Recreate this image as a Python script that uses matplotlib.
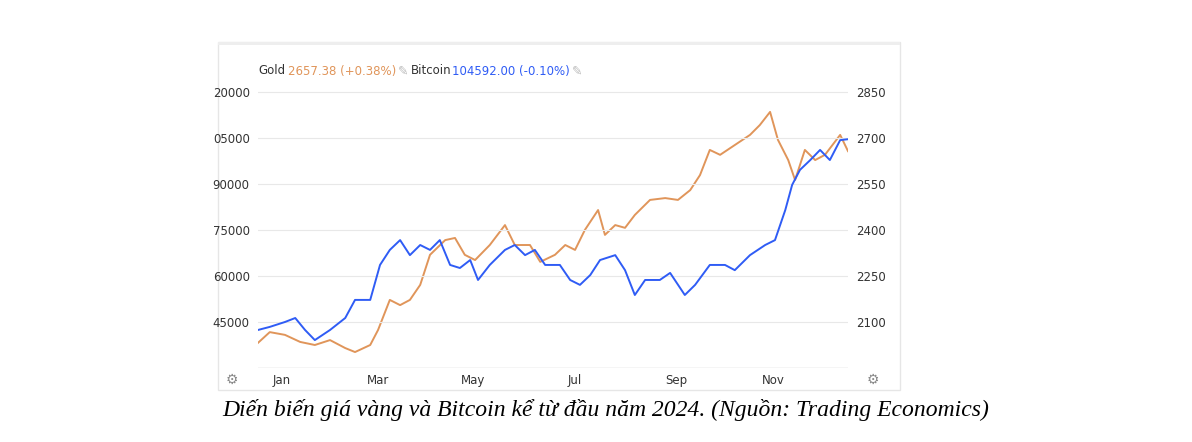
import matplotlib
matplotlib.use("Agg")
import matplotlib.pyplot as plt
from matplotlib.patches import Rectangle

# month-position (0 = Jan 1) and values
gold_x = [0,0.24,0.55,0.86,1.16,1.47,1.78,1.98,2.29,2.45,2.69,2.9,3.1,3.31,3.51,3.82,4.02,4.22,4.43,4.73,5.04,5.24,5.55,5.76,6.06,6.27,6.47,6.67,6.94,7.08,7.29,7.49,7.69,8.0,8.31,8.57,8.82,9.02,9.22,9.43,9.73,10.04,10.24,10.45,10.61,10.82,10.96,11.16,11.37,11.57,11.88,12.04]
gold = [2032,2067,2058,2035,2025,2041,2015,2002,2025,2074,2172,2155,2172,2221,2319,2367,2374,2319,2302,2351,2416,2351,2351,2296,2319,2351,2335,2400,2465,2384,2416,2407,2449,2498,2504,2498,2530,2579,2661,2645,2677,2710,2742,2785,2694,2628,2563,2661,2628,2645,2710,2657]
btc_x = [0,0.24,0.55,0.76,0.96,1.16,1.47,1.78,1.98,2.29,2.49,2.69,2.9,3.1,3.31,3.51,3.71,3.92,4.12,4.33,4.49,4.73,5.04,5.24,5.45,5.65,5.86,6.16,6.37,6.57,6.78,6.98,7.29,7.49,7.69,7.9,8.2,8.41,8.71,8.92,9.22,9.53,9.73,10.04,10.35,10.55,10.76,10.9,11.06,11.27,11.47,11.67,11.88,12.04]
btc = [42400,43400,45000,46300,42400,39100,42400,46300,52200,52200,63600,68500,71700,66800,70100,68500,71700,63600,62600,65200,58700,63600,68500,70100,66800,68500,63600,63600,58700,57100,60300,65200,66800,61900,53800,58700,58700,61000,53800,57100,63600,63600,61900,66800,70100,71700,81500,89700,94600,97800,101100,97800,104300,104592]
left_ticks = [45000,60000,75000,90000,105000,120000]
left_labels = ["45000","60000","75000","90000","05000","20000"]
right_ticks = [2100,2250,2400,2550,2700,2850]
month_ticks = [0.49,2.45,4.39,6.47,8.53,10.51]
month_labels = ["Jan","Mar","May","Jul","Sep","Nov"]

W, H = 1192, 442
fig = plt.figure(figsize=(W/100, H/100), dpi=100)
fig.patches.append(Rectangle((218/W, 1-390/H), 682/W, 348/H, transform=fig.transFigure,
                             facecolor="white", edgecolor="#e6e6e6", lw=1, zorder=-5))
fig.patches.append(Rectangle((218/W, 1-45/H), 682/W, 3/H, transform=fig.transFigure,
                             facecolor="#eeeeee", edgecolor="none", zorder=-4))

ax = fig.add_axes([258/W, 1-368/H, 590/W, 288/H])
ax2 = ax.twinx()
ax.patch.set_visible(False); ax2.patch.set_visible(False)
ax.plot(btc_x, btc, color="#2f5cf5", lw=1.4, zorder=3)
ax2.plot(gold_x, gold, color="#e0955a", lw=1.4)
ax.set_zorder(2); ax2.set_zorder(1)
ax.set_xlim(0, 12.04)
ax.set_ylim(30000, 123900)
ax2.set_ylim(1950, 2889)
ax.set_yticks(left_ticks); ax.set_yticklabels(left_labels)
ax2.set_yticks(right_ticks)
ax.set_xticks(month_ticks); ax.set_xticklabels(month_labels)
for a in (ax, ax2):
    for s in a.spines.values(): s.set_visible(False)
    a.tick_params(length=0, labelsize=8.5, colors="#333333")
ax.tick_params(axis="y", pad=6)
ax2.tick_params(axis="y", pad=6)
ax.tick_params(axis="x", pad=4)
ax.grid(axis="y", color="#e8e8e8", lw=0.8)
ax.axhline(30000, color="#cccccc", lw=1)

y = 1-71/H
fs = 8.5
parts = [("Gold", "#333333", 258), ("2657.38 (+0.38%)", "#e0955a", 288),
         ("Bitcoin", "#333333", 411), ("104592.00 (-0.10%)", "#2f5cf5", 452)]
for t, c, x in parts:
    fig.text(x/W, y, t, color=c, fontsize=fs, va="center")
fig.text(398/W, y, "✎", color="#bbbbbb", fontsize=9, va="center")
fig.text(572/W, y, "✎", color="#bbbbbb", fontsize=9, va="center")
fig.text(232/W, 1-380/H, "⚙", color="#888888", fontsize=10, ha="center", va="center")
fig.text(873/W, 1-380/H, "⚙", color="#888888", fontsize=10, ha="center", va="center")

fig.text(606/W, 1-410/H, "Diến biến giá vàng và Bitcoin kể từ đầu năm 2024. (Nguồn: Trading Economics)",
         fontsize=17, style="italic", family="Liberation Serif", ha="center", va="center")
fig.savefig("out.png", dpi=100)
